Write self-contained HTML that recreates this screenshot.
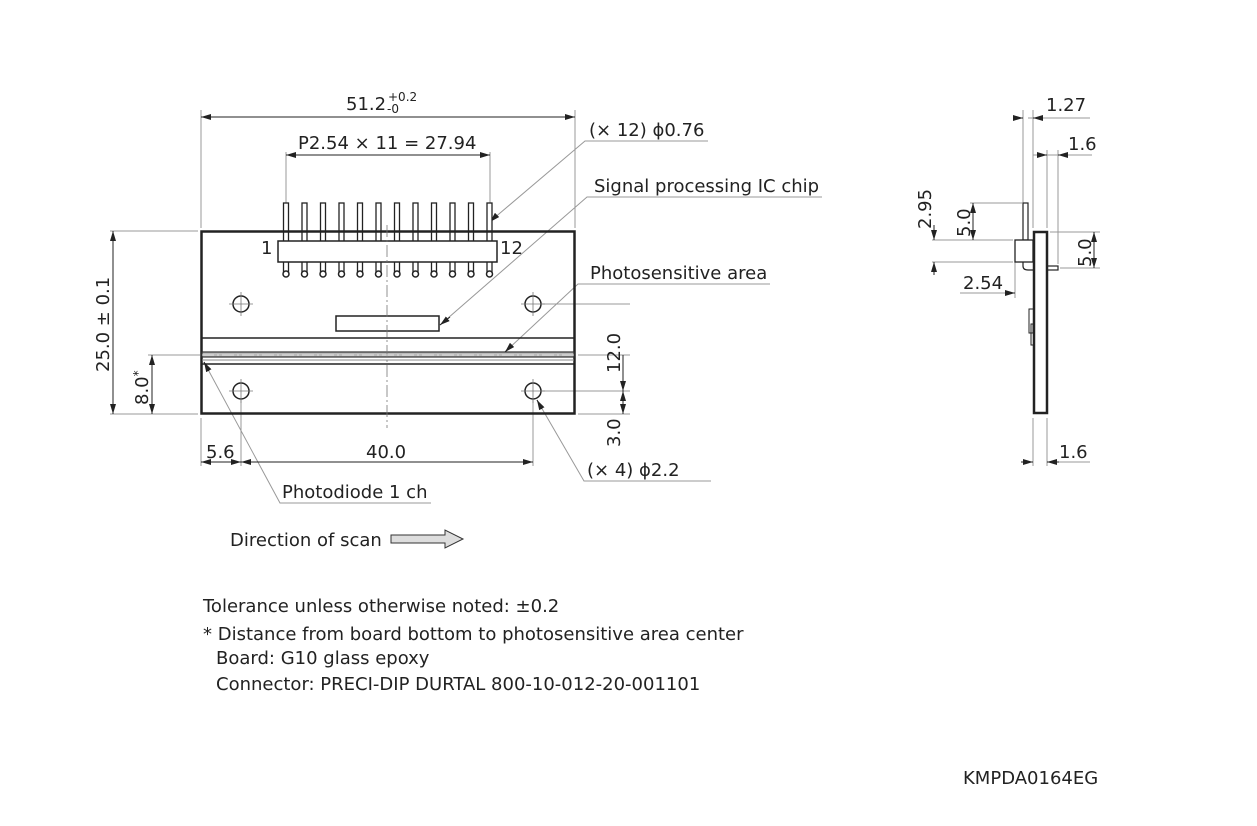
<!DOCTYPE html>
<html><head><meta charset="utf-8"><style>
html,body{margin:0;padding:0;background:#fff}
svg{display:block}
text{font-family:"DejaVu Sans","Liberation Sans",sans-serif;fill:#222;font-size:18px}
</style></head><body>
<svg width="1257" height="826" viewBox="0 0 1257 826" xmlns="http://www.w3.org/2000/svg">
<defs>
<marker id="a" viewBox="0 0 10 6" refX="10" refY="3" markerWidth="10" markerHeight="6" orient="auto-start-reverse" markerUnits="userSpaceOnUse"><path d="M0,0L10,3L0,6z" fill="#222"/></marker>
</defs>
<g stroke="#999" stroke-width="1" fill="none">
<line x1="201" y1="110" x2="201" y2="228"/>
<line x1="575" y1="110" x2="575" y2="228"/>
<line x1="286" y1="152" x2="286" y2="240"/>
<line x1="490" y1="152" x2="490" y2="240"/>
<line x1="110" y1="231" x2="198" y2="231"/>
<line x1="110" y1="414" x2="198" y2="414"/>
<line x1="148" y1="355" x2="200" y2="355"/>
<line x1="201" y1="418" x2="201" y2="466"/>
<line x1="241" y1="400" x2="241" y2="466"/>
<line x1="533" y1="400" x2="533" y2="466"/>
<line x1="533" y1="304" x2="630" y2="304"/>
<line x1="533" y1="391" x2="630" y2="391"/>
<line x1="578" y1="414" x2="630" y2="414"/>
<line x1="578" y1="355" x2="630" y2="355"/>
<polyline points="708,141 585,141 493,219"/>
<polyline points="822,197 587,197 440,325"/>
<polyline points="770,284 578,284 505,352"/>
<polyline points="431,503 280,503 204,362"/>
<polyline points="711,481 584,481 537,400"/>
<line x1="1023" y1="110" x2="1023" y2="228"/>
<line x1="1033" y1="110" x2="1033" y2="228"/>
<line x1="1033" y1="155" x2="1092" y2="155"/>
<line x1="1047" y1="150" x2="1047" y2="228"/>
<line x1="1058" y1="150" x2="1058" y2="264"/>
<line x1="1028" y1="118" x2="1090" y2="118"/>
<line x1="970" y1="203" x2="1022" y2="203"/>
<line x1="932" y1="240" x2="1013" y2="240"/>
<line x1="932" y1="262" x2="1013" y2="262"/>
<line x1="1050" y1="232" x2="1100" y2="232"/>
<line x1="1060" y1="268" x2="1100" y2="268"/>
<line x1="1015" y1="262" x2="1015" y2="298"/>
<line x1="960" y1="293" x2="1010" y2="293"/>
<line x1="1033" y1="418" x2="1033" y2="466"/>
<line x1="1047" y1="418" x2="1047" y2="466"/>
<line x1="1047" y1="462" x2="1090" y2="462"/>
</g>
<g stroke="#222" stroke-width="1" fill="none">
<line x1="201" y1="117" x2="575" y2="117" marker-start="url(#a)" marker-end="url(#a)"/>
<line x1="286" y1="155" x2="490" y2="155" marker-start="url(#a)" marker-end="url(#a)"/>
<line x1="113" y1="231" x2="113" y2="414" marker-start="url(#a)" marker-end="url(#a)"/>
<line x1="152" y1="355" x2="152" y2="414" marker-start="url(#a)" marker-end="url(#a)"/>
<line x1="201" y1="462" x2="241" y2="462" marker-start="url(#a)" marker-end="url(#a)"/>
<line x1="241" y1="462" x2="533" y2="462" marker-start="url(#a)" marker-end="url(#a)"/>
<line x1="623" y1="355" x2="623" y2="391" marker-end="url(#a)"/>
<line x1="623" y1="391" x2="623" y2="414" marker-start="url(#a)" marker-end="url(#a)"/>
<line x1="493" y1="219" x2="490" y2="222" marker-end="url(#a)"/>
<line x1="450" y1="317" x2="440" y2="325" marker-end="url(#a)"/>
<line x1="512" y1="345" x2="505" y2="352" marker-end="url(#a)"/>
<line x1="209" y1="371" x2="204" y2="362" marker-end="url(#a)"/>
<line x1="542" y1="409" x2="537" y2="400" marker-end="url(#a)"/>
<line x1="1013" y1="118" x2="1023" y2="118" marker-end="url(#a)"/>
<line x1="1043" y1="118" x2="1033" y2="118" marker-end="url(#a)"/>
<line x1="1037" y1="155" x2="1047" y2="155" marker-end="url(#a)"/>
<line x1="1068" y1="155" x2="1058" y2="155" marker-end="url(#a)"/>
<line x1="973" y1="203" x2="973" y2="240" marker-start="url(#a)" marker-end="url(#a)"/>
<line x1="934" y1="225" x2="934" y2="240" marker-end="url(#a)"/>
<line x1="934" y1="275" x2="934" y2="262" marker-end="url(#a)"/>
<line x1="1094" y1="232" x2="1094" y2="268" marker-start="url(#a)" marker-end="url(#a)"/>
<line x1="1005" y1="293" x2="1015" y2="293" marker-end="url(#a)"/>
<line x1="1047" y1="293" x2="1036" y2="293" marker-end="url(#a)"/>
<line x1="1021" y1="462" x2="1033" y2="462" marker-end="url(#a)"/>
<line x1="1059" y1="462" x2="1047" y2="462" marker-end="url(#a)"/>
</g>
<g stroke="#222" fill="#fff">
<g stroke-width="1.3">
<rect x="283.5" y="203" width="5" height="70"/><rect x="302" y="203" width="5" height="70"/><rect x="320.5" y="203" width="5" height="70"/><rect x="339" y="203" width="5" height="70"/><rect x="357.5" y="203" width="5" height="70"/><rect x="376" y="203" width="5" height="70"/><rect x="394.5" y="203" width="5" height="70"/><rect x="413" y="203" width="5" height="70"/><rect x="431.5" y="203" width="5" height="70"/><rect x="450" y="203" width="5" height="70"/><rect x="468.5" y="203" width="5" height="70"/><rect x="487" y="203" width="5" height="70"/>
</g>
<rect x="201.5" y="231.5" width="373" height="182" stroke-width="2.5" fill="none"/>
<g stroke-width="1.5" fill="#fff">
<rect x="278" y="241" width="219" height="21"/>
<circle cx="286" cy="274" r="3"/><circle cx="304.5" cy="274" r="3"/><circle cx="323" cy="274" r="3"/><circle cx="341.5" cy="274" r="3"/><circle cx="360" cy="274" r="3"/><circle cx="378.5" cy="274" r="3"/><circle cx="397" cy="274" r="3"/><circle cx="415.5" cy="274" r="3"/><circle cx="434" cy="274" r="3"/><circle cx="452.5" cy="274" r="3"/><circle cx="471" cy="274" r="3"/><circle cx="489.5" cy="274" r="3"/>
<rect x="336" y="316" width="103" height="15"/>
<circle cx="241" cy="304" r="8"/><circle cx="533" cy="304" r="8"/><circle cx="241" cy="391" r="8"/><circle cx="533" cy="391" r="8"/>
</g>
<line x1="202" y1="338" x2="574" y2="338" stroke-width="1.5"/>
<rect x="202" y="352" width="372" height="5" fill="#bbb" stroke="#333" stroke-width="1.2"/>
<line x1="202" y1="360" x2="574" y2="360" stroke="#888" stroke-width="1"/>
<line x1="202" y1="364" x2="574" y2="364" stroke-width="1.5"/>
</g>
<g stroke="#777" stroke-width="0.8">
<line x1="387" y1="225" x2="387" y2="428" stroke-dasharray="12,3,2,3"/>
<line x1="202" y1="355" x2="574" y2="355" stroke="#eee" stroke-dasharray="12,3,2,3"/>
<line x1="229" y1="304" x2="253" y2="304"/><line x1="241" y1="292" x2="241" y2="316"/>
<line x1="521" y1="304" x2="545" y2="304"/><line x1="533" y1="292" x2="533" y2="316"/>
<line x1="229" y1="391" x2="253" y2="391"/><line x1="241" y1="379" x2="241" y2="403"/>
<line x1="521" y1="391" x2="545" y2="391"/><line x1="533" y1="379" x2="533" y2="403"/>
</g>
<g stroke="#222" fill="#fff">
<rect x="1023" y="203" width="5" height="37" stroke-width="1.2"/>
<rect x="1015" y="240" width="18" height="22" stroke-width="1.3"/>
<path d="M1023,262 V266 Q1023,270 1028,270 H1033" fill="none" stroke-width="1.2"/>
<rect x="1047" y="266" width="11" height="4" stroke-width="1.2"/>
<path d="M1033,309 H1029 V333 H1031 V345 H1033" fill="none" stroke-width="1"/>
<rect x="1031" y="324" width="2" height="9" stroke-width="1"/>
<rect x="1034" y="232" width="13" height="181" stroke-width="2.5" fill="#fff"/>
</g>
<text x="346" y="110">51.2</text><text x="388" y="101" style="font-size:12px">+0.2</text><text x="387" y="113" style="font-size:12px">-0</text>
<text x="298" y="149">P2.54 × 11 = 27.94</text>
<text x="589" y="136">(× 12) ϕ0.76</text>
<text x="594" y="192">Signal processing IC chip</text>
<text x="590" y="279">Photosensitive area</text>
<text x="261" y="254">1</text>
<text x="500" y="254">12</text>
<text x="206" y="458">5.6</text>
<text x="366" y="458">40.0</text>
<text x="587" y="476">(× 4) ϕ2.2</text>
<text x="282" y="498">Photodiode 1 ch</text>
<text transform="translate(109,372) rotate(-90)">25.0 ± 0.1</text>
<text transform="translate(148,405) rotate(-90)">8.0<tspan style="font-size:12px" dy="-6">*</tspan></text>
<text transform="translate(620,373) rotate(-90)">12.0</text>
<text transform="translate(620,447) rotate(-90)">3.0</text>
<text x="1046" y="111">1.27</text>
<text x="1068" y="150">1.6</text>
<text transform="translate(931,229) rotate(-90)">2.95</text>
<text transform="translate(970,237) rotate(-90)">5.0</text>
<text transform="translate(1091,267) rotate(-90)">5.0</text>
<text x="963" y="289">2.54</text>
<text x="1059" y="458">1.6</text>
<text x="230" y="546">Direction of scan</text>
<path d="M391,535 H445 V530 L463,539 L445,548 V543 H391 Z" fill="#ddd" stroke="#333" stroke-width="1"/>
<text x="203" y="612">Tolerance unless otherwise noted: ±0.2</text>
<text x="203" y="640">* Distance from board bottom to photosensitive area center</text>
<text x="216" y="664">Board: G10 glass epoxy</text>
<text x="216" y="690">Connector: PRECI-DIP DURTAL 800-10-012-20-001101</text>
<text x="963" y="784">KMPDA0164EG</text>
</svg>
</body></html>
